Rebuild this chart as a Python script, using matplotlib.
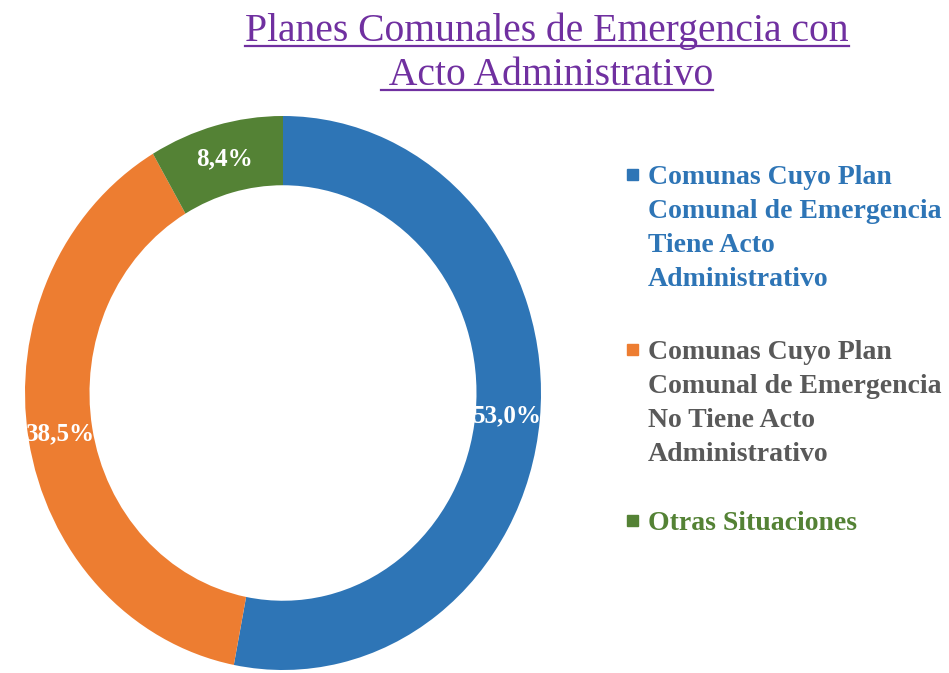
import numpy as np
import matplotlib.pyplot as plt
from matplotlib.lines import Line2D
from matplotlib.patches import Rectangle

# data
labels = [
    "Comunas Cuyo Plan\nComunal de Emergencia\nTiene Acto\nAdministrativo",
    "Comunas Cuyo Plan\nComunal de Emergencia\nNo Tiene Acto\nAdministrativo",
    "Otras Situaciones",
]
values = [53.0, 38.5, 8.4]
pct_labels = ["53,0%", "38,5%", "8,4%"]
colors = ["#2E75B6", "#ED7D31", "#548235"]
text_colors = ["#2E75B6", "#595959", "#548235"]
title_lines = ["Planes Comunales de Emergencia con", " Acto Administrativo"]

W, H = 949, 673
fig = plt.figure(figsize=(W / 100, H / 100), dpi=100)
fig.patch.set_facecolor("white")

# donut (slightly taller than wide, as in the original)
ax = fig.add_axes([25 / W, 3 / H, 516 / W, 554 / H])
wedges, texts = ax.pie(values, colors=colors, startangle=90, counterclock=False,
                       radius=1.0, wedgeprops=dict(width=0.25, linewidth=0))
ax.set_aspect("auto")
ax.set_xlim(-1, 1)
ax.set_ylim(-1, 1)
ax.axis("off")

# percentage labels in the middle of the ring
for w, txt in zip(wedges, pct_labels):
    ang = np.deg2rad((w.theta1 + w.theta2) / 2)
    ax.text(0.875 * np.cos(ang), 0.875 * np.sin(ang), txt, ha="center", va="center",
            color="white", fontsize=18, fontweight="bold", family="Liberation Serif")

# title with underline
title_font = dict(family="Liberation Serif", fontsize=28.5, color="#7030A0")
title_baselines = [41, 85]
tt = []
for line, yb in zip(title_lines, title_baselines):
    tt.append(fig.text(547 / W, 1 - yb / H, line, ha="center", va="baseline", **title_font))
fig.canvas.draw()
r = fig.canvas.get_renderer()
for t, yb in zip(tt, title_baselines):
    bb = t.get_window_extent(r)
    yl = 1 - (yb + 5) / H
    fig.add_artist(Line2D([bb.x0 / W, bb.x1 / W], [yl, yl], color="#7030A0", lw=1.6,
                          transform=fig.transFigure))

# legend drawn by hand, one text per line
leg_baselines = [184, 359, 530]
step = 34
for lab, c, tc, yb in zip(labels, colors, text_colors, leg_baselines):
    for i, part in enumerate(lab.split("\n")):
        fig.text(648 / W, 1 - (yb + i * step) / H, part, ha="left", va="baseline",
                 color=tc, fontsize=20, fontweight="bold", family="Liberation Serif")
    fig.add_artist(Rectangle((627 / W, 1 - (yb - 4) / H), 11 / W, 11 / H, color=c,
                             transform=fig.transFigure))

fig.savefig("out.png", dpi=100, facecolor="white")
